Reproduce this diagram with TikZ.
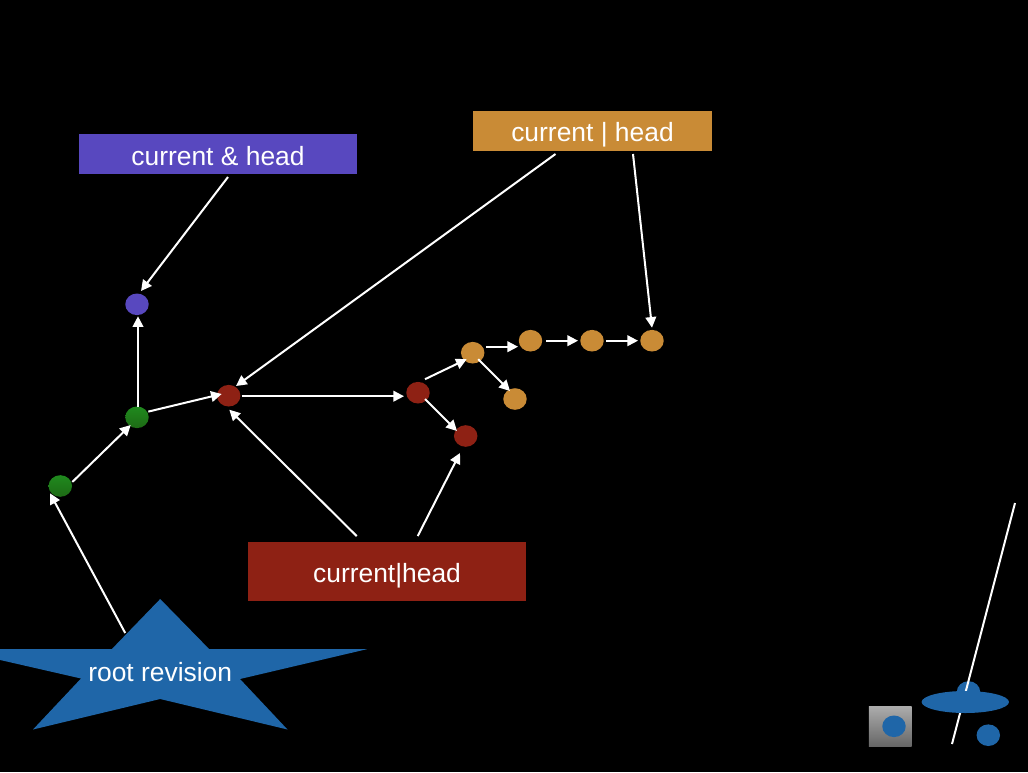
\documentclass[tikz,border=0pt]{standalone}
\usepackage{fontspec}
\setmainfont{Liberation Sans}
\usetikzlibrary{arrows.meta,shapes.geometric}
\definecolor{cpurple}{HTML}{5848BF}
\definecolor{corange}{HTML}{C98B36}
\definecolor{cred}{HTML}{8E2114}
\definecolor{cgreenT}{HTML}{1F8A1E}
\definecolor{cgreenB}{HTML}{1E6A15}
\definecolor{cblue}{HTML}{1F66A8}
\tikzset{
  dotshape/.style={ellipse,inner sep=0pt,outer sep=0pt,minimum width=17.6pt,minimum height=16.2pt},
  dot/.style={dotshape,fill=#1},
  greendot/.style={dotshape,top color=cgreenT,bottom color=cgreenB},
  label box/.style={rectangle,inner sep=0pt,outer sep=0pt,fill=#1,text=white,font=\fontsize{19.8}{24}\selectfont,text depth=0pt},
  arr/.style={draw=white,line width=1.5pt,-{Triangle[length=8pt,width=8pt]}},
  plainline/.style={draw=white,line width=1.5pt},
}
\begin{document}
\begin{tikzpicture}[x=0.75pt,y=-0.75pt]
\useasboundingbox (0,0) rectangle (1028,772);
\clip (0,0) rectangle (1028,772);
\fill[black] (0,0) rectangle (1028,772);
% labels
\node[label box=cpurple,minimum width=208.5pt,minimum height=30pt,text height=16.5pt] (lpurple) at (218,154) {current \& head};
\node[label box=corange,minimum width=179.25pt,minimum height=30pt,text height=16pt] (lorange) at (592.5,131) {current | head};
\node[label box=cred,minimum width=208.5pt,minimum height=44pt,text height=16pt] (lred) at (387,571.4) {current|head};
% star
\fill[cblue] (160.2,599) -- (209.3,649.2) -- (366.8,649.2) -- (240,679) -- (287.5,729.5) -- (160.2,699) -- (33,729.5) -- (81,678.5) -- (-47,649.2) -- (111.7,649.2) -- cycle;
\node[text=white,font=\fontsize{19.8}{24}\selectfont,inner sep=0pt,anchor=base] (lroot) at (160.2,681.5) {root revision};
% revisions
\node[greendot] (g1) at (60.3,486) {};
\node[greendot] (g2) at (137,417.3) {};
\node[dot=cpurple] (p1) at (137,304.3) {};
\node[dot=cred] (r1) at (228.7,395.7) {};
\node[dot=cred] (r2) at (418,392.7) {};
\node[dot=cred] (r3) at (465.7,436) {};
\node[dot=corange] (o1) at (472.7,352.7) {};
\node[dot=corange] (o2) at (530.5,340.7) {};
\node[dot=corange] (o3) at (592,340.7) {};
\node[dot=corange] (o4) at (652,340.7) {};
\node[dot=corange] (o5) at (515,399) {};
% connectors
\draw[arr] ([shift={(10,3)}]lpurple.south) -- ([shift={(4,-13.3)}]p1.center);
\draw[arr] ([shift={(-37,3)}]lorange.south) -- ([shift={(7.3,-9.7)}]r1.center);
\draw[arr] ([shift={(40.5,3)}]lorange.south) -- ([shift={(0,-13)}]o4.center);
\draw[arr] ([shift={(1,-10.5)}]g2.center) -- ([shift={(1,12)}]p1.center);
\draw[arr] ([shift={(12,-4)}]g1.center) -- ([shift={(-6.3,7.7)}]g2.center);
\draw[arr] ([shift={(11.3,-5.7)}]g2.center) -- ([shift={(-7,-1.7)}]r1.center);
\draw[arr] ([shift={(13,0.5)}]r1.center) -- ([shift={(-14,3.5)}]r2.center);
\draw[arr] ([shift={(7,6.3)}]r2.center) -- ([shift={(-8.7,-5)}]r3.center);
\draw[arr] ([shift={(7,-13.5)}]r2.center) -- ([shift={(-6,6.5)}]o1.center);
\draw[arr] ([shift={(13.5,-6)}]o1.center) -- ([shift={(-12.5,6)}]o2.center);
\draw[arr] ([shift={(15.5,0)}]o2.center) -- ([shift={(-14,0)}]o3.center);
\draw[arr] ([shift={(14,0)}]o3.center) -- ([shift={(-14,0)}]o4.center);
\draw[arr] ([shift={(5.5,6.5)}]o1.center) -- ([shift={(-5,-8)}]o5.center);
\draw[arr] ([shift={(-30.3,-6)}]lred.north) -- ([shift={(0.6,14)}]r1.center);
\draw[arr] ([shift={(30.7,-6)}]lred.north) -- ([shift={(-5.7,17)}]r3.center);
\draw[arr] ([shift={(-35,-48.5)}]lroot.base) -- ([shift={(-10.3,7.3)}]g1.center);
% lower right scraps
\node[rectangle,inner sep=0pt,outer sep=0pt,minimum width=32pt,minimum height=29.8pt,top color=black!33,bottom color=black!60] (sq) at (890.3,726.8) {};
\node[dot=cblue] (sqdot) at (894,726.3) {};
\node[dot=cblue] (hump) at (968.5,692) {};
\coordinate (ltop) at (1015,503);
\coordinate (lbot) at (952,744);
\draw[plainline] (ltop) -- (lbot);
\node[ellipse,inner sep=0pt,outer sep=0pt,minimum width=65.5pt,minimum height=16.5pt,fill=cblue] (hat) at (965.3,702) {};
\node[dot=cblue] (lonedot) at (988.3,735.2) {};
\end{tikzpicture}
\end{document}
